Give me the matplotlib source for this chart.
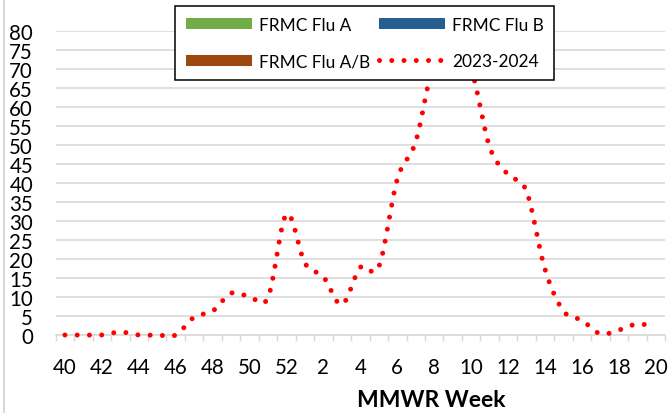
import numpy as np
import matplotlib
matplotlib.use("Agg")
import matplotlib.pyplot as plt
from matplotlib.lines import Line2D

# ---- data ----
week_labels = [40, 41, 42, 43, 44, 45, 46, 47, 48, 49, 50, 51, 52,
               1, 2, 3, 4, 5, 6, 7, 8, 9, 10, 11, 12, 13, 14, 15, 16, 17, 18, 19, 20]
season_2023_2024 = [0, 0, 0, 0.8, 0, 0, 0, 4.7, 6.3, 11.0, 10.1, 9.9, 31.8,
                    18.9, 15.3, 8.0, 17.8, 18.0, 41.0, 50.9, 72.0, 76.0, 70.0,
                    49.5, 42.2, 37.8, 17.3, 6.3, 3.9, 0.3, 1.3, 2.9, 2.2]
frmc_flu_a = [0] * len(week_labels)
frmc_flu_b = [0] * len(week_labels)
frmc_flu_ab = [0] * len(week_labels)
y_ticks = list(range(0, 81, 5))

# ---- smoothing like Excel's smoothed line (Catmull-Rom) ----
def smooth(y, n=24):
    y = np.asarray(y, float)
    ext = np.concatenate([[y[0]], y, [y[-1]]])
    xs, ys = [], []
    t = np.linspace(0, 1, n, endpoint=False)
    for i in range(len(y) - 1):
        p0, p1, p2, p3 = ext[i:i + 4]
        m1 = (p2 - p0) / 2.0
        m2 = (p3 - p1) / 2.0
        h00 = 2 * t**3 - 3 * t**2 + 1
        h10 = t**3 - 2 * t**2 + t
        h01 = -2 * t**3 + 3 * t**2
        h11 = t**3 - t**2
        ys.append(h00 * p1 + h10 * m1 + h01 * p2 + h11 * m2)
        xs.append(i + t)
    xs.append([len(y) - 1])
    ys.append([y[-1]])
    return np.concatenate(xs), np.concatenate(ys)

plt.rcParams['font.family'] = ['Lato', 'DejaVu Sans']

fig = plt.figure(figsize=(6.69, 4.14), dpi=100)
ax = fig.add_axes([55.7 / 669, 1 - 336 / 414, (665 - 55.7) / 669, (336 - 32) / 414])

x = np.arange(len(week_labels))
grid_c = '#D9D9D9'

bar_a = ax.bar(x, frmc_flu_a, color='#70AD47', label='FRMC Flu A')
bar_b = ax.bar(x, frmc_flu_b, color='#255E91', label='FRMC Flu B')
bar_ab = ax.bar(x, frmc_flu_ab, color='#9E480E', label='FRMC Flu A/B')

sx, sy = smooth(season_2023_2024)
line, = ax.plot(sx, sy, color='#FF0000', lw=3.6, linestyle=(0, (0.001, 2.45)),
                dash_capstyle='round', solid_capstyle='round', label='2023-2024',
                clip_on=False, zorder=3)

ax.set_xlim(-0.5, len(week_labels) - 0.5)
ax.set_ylim(0, 80)
ax.set_yticks(y_ticks)
ax.set_yticklabels([str(v) for v in y_ticks], fontsize=14.8)
ax.set_xticks(x[::2])
ax.set_xticklabels([str(w) for w in week_labels[::2]], fontsize=14.8)
ax.set_xticks(np.arange(-0.5, len(week_labels), 1), minor=True)
ax.tick_params(axis='x', which='major', length=0, pad=16.0)
ax.tick_params(axis='x', which='minor', length=4.5, width=1, color=grid_c)
ax.tick_params(axis='y', length=0, pad=16.3)

ax.yaxis.grid(True, color=grid_c, lw=1.2)
ax.set_axisbelow(True)
for s in ['top', 'right', 'left']:
    ax.spines[s].set_visible(False)
ax.spines['bottom'].set_color(grid_c)
ax.spines['bottom'].set_linewidth(1.2)

ax.set_xlabel('MMWR Week', fontsize=16.5, fontweight='bold')
ax.xaxis.label.set_va('baseline')
ax.xaxis.set_label_coords((431.5 - 55.7) / (665 - 55.7), (0.0162 - (1 - 336 / 414)) / ((336 - 32) / 414))

# column-major fill: col1 = Flu A, Flu A/B ; col2 = Flu B, 2023-2024
leg_handles = [bar_a, bar_ab, bar_b, line]
leg_labels = ['FRMC Flu A', 'FRMC Flu A/B', 'FRMC Flu B', '2023-2024']
leg = fig.legend(leg_handles, leg_labels,
                 ncol=2, loc='upper left', bbox_to_anchor=(175 / 669, 1 - 7 / 414),
                 borderaxespad=0, fontsize=12.4, frameon=True, fancybox=False,
                 framealpha=1, edgecolor='black', handlelength=3.85,
                 handleheight=0.65,
                 handletextpad=0.4, columnspacing=0.5, labelspacing=1.2,
                 borderpad=0.62)
leg.get_frame().set_linewidth(1.1)

fig.add_artist(Line2D([4 / 669, 4 / 669], [0, 1], transform=fig.transFigure,
                      color=grid_c, lw=1.5))

fig.savefig('out.png', dpi=100)
